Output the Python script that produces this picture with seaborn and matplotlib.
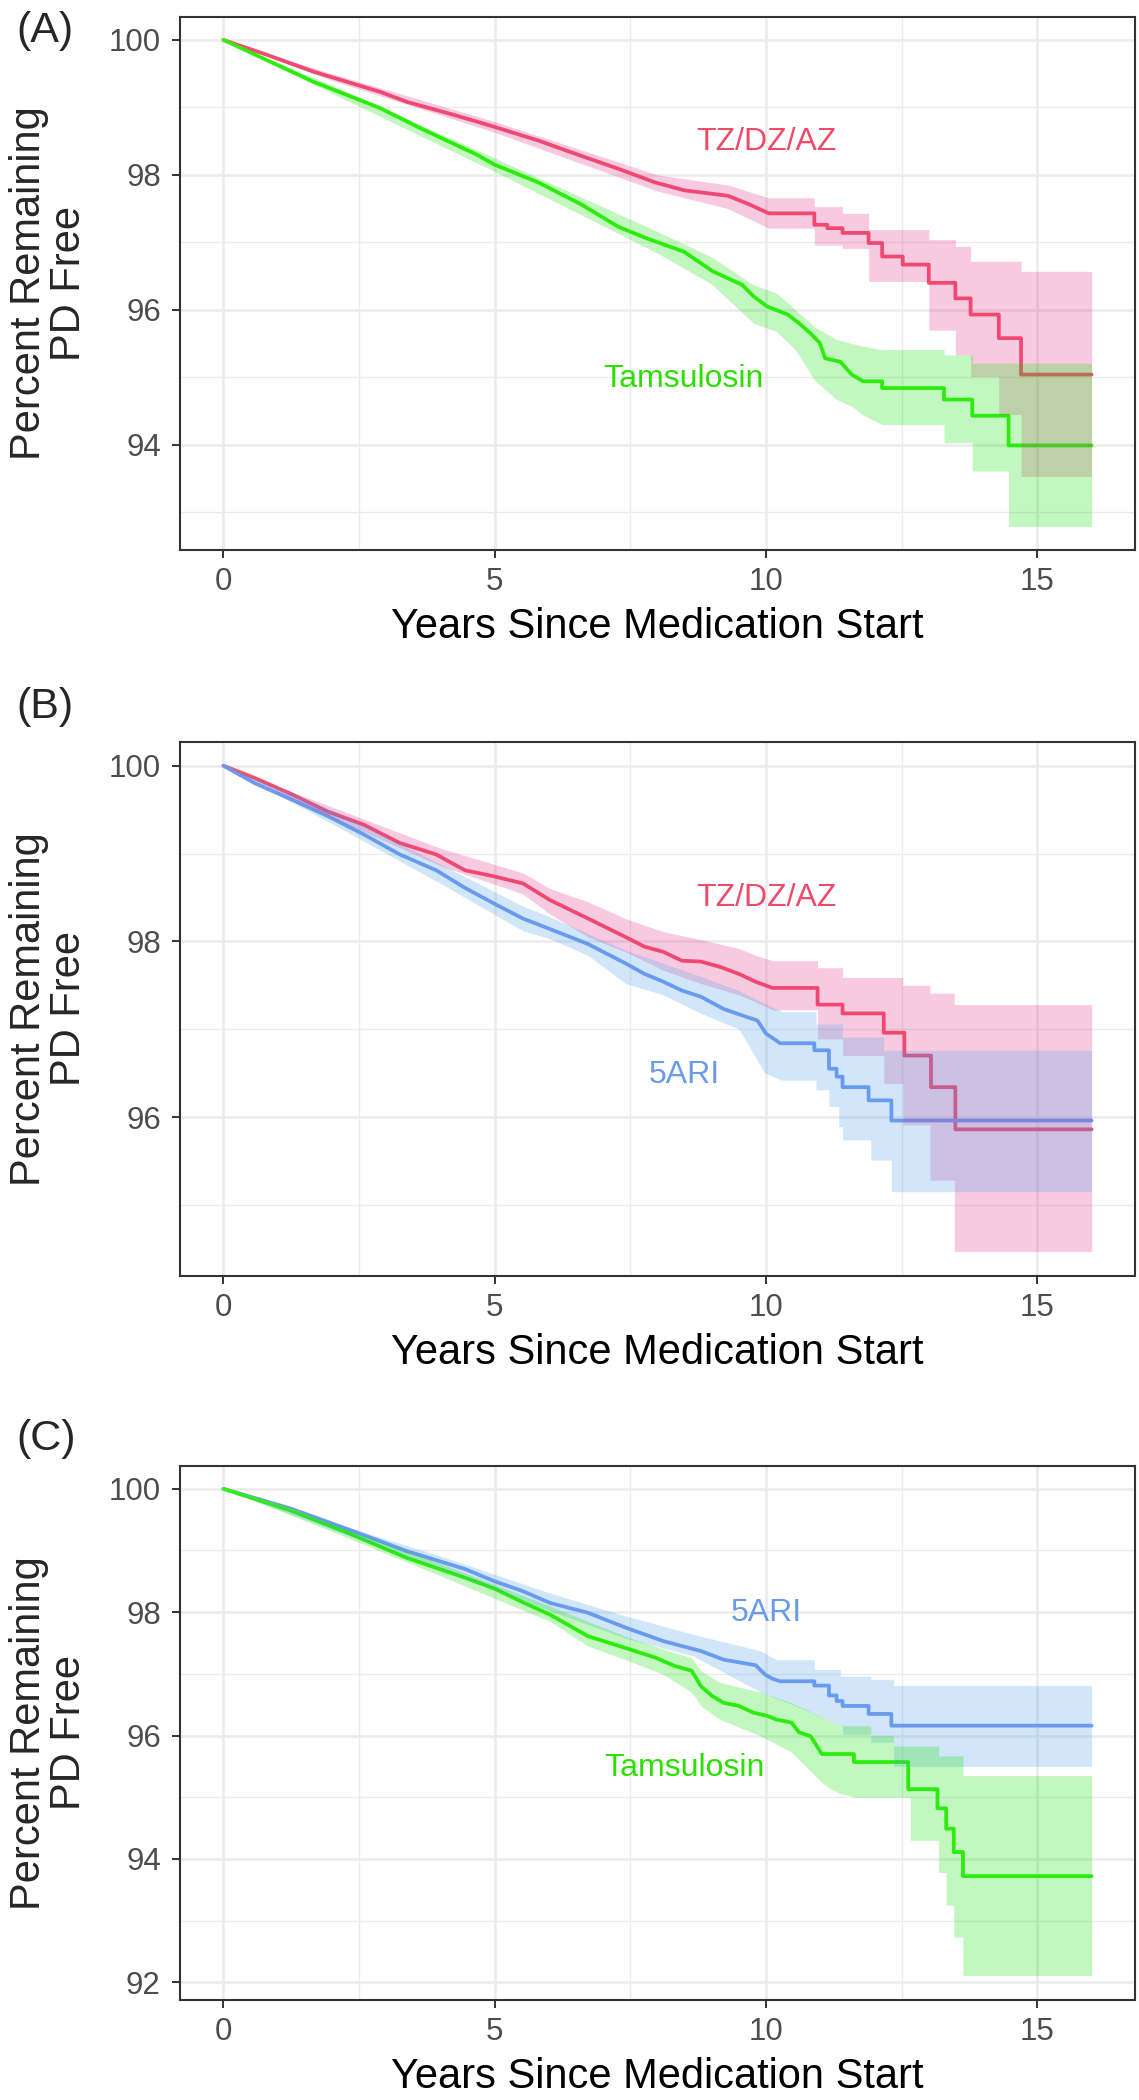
import matplotlib
matplotlib.use("Agg")
import matplotlib.pyplot as plt
import seaborn as sns

# ---- data (years, percent PD free) ----
# steps are written as two points at the same time

# (A) TZ/DZ/AZ vs Tamsulosin
a_tz_t = [0, 0.8, 1.66, 2.89, 3.39, 4.2, 4.67, 5.0, 5.8, 6.6, 7.28, 7.95, 8.5, 9.3, 9.7, 10.05,
          10.89, 10.89, 11.13, 11.13, 11.41, 11.41, 11.89, 11.89, 12.14, 12.14, 12.52, 12.52,
          13.0, 13.0, 13.49, 13.49, 13.77, 13.77, 14.29, 14.29, 14.7, 14.7, 16.0]
a_tz_s = [100, 99.78, 99.53, 99.23, 99.08, 98.9, 98.79, 98.71, 98.51, 98.28, 98.09, 97.89, 97.77, 97.69, 97.56, 97.43,
          97.43, 97.26, 97.26, 97.21, 97.21, 97.14, 97.14, 96.99, 96.99, 96.79, 96.79, 96.67,
          96.67, 96.40, 96.40, 96.17, 96.17, 95.93, 95.93, 95.58, 95.58, 95.04, 95.04]
a_tz_bt = [0, 2, 5, 8, 9.3, 10.05, 10.89, 10.89, 11.41, 11.41, 11.89, 11.89, 13.0, 13.0,
           13.49, 13.49, 13.77, 13.77, 14.29, 14.29, 14.7, 14.7, 16.0]
a_tz_lo = [100, 99.40, 98.63, 97.76, 97.5, 97.21, 97.21, 96.96, 96.96, 96.91, 96.91, 96.42, 96.42, 95.70,
           95.70, 95.33, 95.33, 95.01, 95.01, 94.45, 94.45, 93.53, 93.53]
a_tz_hi = [100, 99.50, 98.79, 98.0, 97.85, 97.66, 97.66, 97.53, 97.53, 97.43, 97.43, 97.19, 97.19, 97.04,
           97.04, 96.94, 96.94, 96.72, 96.72, 96.72, 96.72, 96.57, 96.57]

a_tam_t = [0, 1.66, 2.89, 3.66, 4.67, 5.0, 5.8, 6.6, 7.28, 7.8, 8.49, 9.02, 9.56, 9.77, 10.02, 10.4,
           10.61, 10.82, 10.99, 11.09, 11.37, 11.58, 11.79, 12.14, 12.14, 13.28, 13.28, 13.8, 13.8,
           14.47, 14.47, 16.0]
a_tam_s = [100, 99.38, 98.99, 98.68, 98.30, 98.15, 97.89, 97.56, 97.23, 97.06, 96.86, 96.57, 96.37, 96.20, 96.05, 95.93,
           95.80, 95.65, 95.51, 95.28, 95.23, 95.04, 94.94, 94.94, 94.84, 94.84, 94.67, 94.67, 94.43,
           94.43, 93.99, 93.99]
a_tam_bt = [0, 2, 5, 8, 9.0, 9.77, 10.19, 10.54, 10.89, 11.3, 11.58, 11.79, 12.14, 13.28, 13.28,
            13.8, 13.8, 14.47, 14.47, 16.0]
a_tam_lo = [100, 99.21, 98.05, 96.84, 96.38, 95.80, 95.68, 95.41, 94.96, 94.67, 94.57, 94.44, 94.30, 94.30, 94.03,
            94.03, 93.61, 93.61, 92.79, 92.79]
a_tam_hi = [100, 99.33, 98.25, 97.16, 96.78, 96.37, 96.25, 96.0, 95.75, 95.56, 95.50, 95.46, 95.41, 95.41, 95.33,
            95.33, 95.21, 95.21, 95.21, 95.21]

# (B) TZ/DZ/AZ vs 5ARI
b_tz_t = [0, 0.58, 1.24, 1.91, 2.58, 3.25, 3.92, 4.45, 4.99, 5.52, 6.02, 6.72, 7.41, 7.76, 8.11, 8.45,
          8.8, 9.15, 9.5, 9.81, 10.12, 10.95, 10.95, 11.41, 11.41, 12.17, 12.17, 12.55, 12.55,
          13.04, 13.04, 13.49, 13.49, 16.0]
b_tz_s = [100, 99.86, 99.68, 99.48, 99.33, 99.12, 98.99, 98.81, 98.74, 98.66, 98.47, 98.26, 98.05, 97.94, 97.88, 97.78,
          97.77, 97.71, 97.63, 97.54, 97.47, 97.47, 97.28, 97.28, 97.18, 97.18, 96.96, 96.96, 96.70,
          96.70, 96.34, 96.34, 95.86, 95.86]
b_tz_bt = [0, 2, 4, 5.52, 6.02, 6.72, 7.41, 8.11, 8.8, 9.5, 9.81, 10.12, 10.95, 10.95, 11.41, 11.41,
           12.17, 12.17, 12.52, 12.52, 13.02, 13.02, 13.47, 13.47, 16.0]
b_tz_lo = [100, 99.41, 98.86, 98.54, 98.31, 98.05, 97.88, 97.67, 97.52, 97.39, 97.31, 97.22, 97.22, 96.89, 96.89, 96.70,
           96.70, 96.38, 96.38, 95.91, 95.91, 95.28, 95.28, 94.47, 94.47]
b_tz_hi = [100, 99.53, 99.06, 98.78, 98.60, 98.45, 98.26, 98.11, 98.02, 97.92, 97.84, 97.78, 97.78, 97.70, 97.70, 97.59,
           97.59, 97.59, 97.59, 97.50, 97.50, 97.41, 97.41, 97.28, 97.28]

b_ari_t = [0, 0.58, 1.24, 1.91, 2.58, 3.25, 3.92, 4.45, 4.99, 5.52, 6.02, 6.72, 7.41, 7.76, 8.11, 8.45,
           8.8, 9.22, 9.64, 9.84, 10.0, 10.26, 10.89, 10.89, 11.16, 11.16, 11.3, 11.3, 11.41, 11.41,
           11.89, 11.89, 12.31, 12.31, 16.0]
b_ari_s = [100, 99.80, 99.62, 99.43, 99.22, 98.99, 98.81, 98.61, 98.43, 98.26, 98.14, 97.97, 97.75, 97.63, 97.54, 97.44,
           97.37, 97.23, 97.14, 97.10, 96.95, 96.84, 96.84, 96.76, 96.76, 96.55, 96.55, 96.46, 96.46, 96.34,
           96.34, 96.19, 96.19, 95.96, 95.96]
b_ari_bt = [0, 2, 4, 5.52, 6.02, 6.72, 7.41, 8.11, 8.8, 9.5, 9.98, 10.3, 10.92, 10.92, 11.16, 11.16,
            11.34, 11.34, 11.41, 11.41, 11.93, 11.93, 12.17, 12.17, 12.31, 12.31, 16.0]
b_ari_lo = [100, 99.34, 98.66, 98.12, 98.03, 97.84, 97.52, 97.39, 97.18, 97.0, 96.5, 96.42, 96.42, 96.31, 96.31, 96.12,
            96.12, 95.89, 95.89, 95.74, 95.74, 95.51, 95.51, 95.51, 95.51, 95.15, 95.15]
b_ari_hi = [100, 99.50, 98.88, 98.40, 98.28, 98.09, 97.90, 97.75, 97.60, 97.44, 97.29, 97.20, 97.20, 97.06, 97.06, 97.06,
            97.06, 97.06, 97.06, 96.91, 96.91, 96.91, 96.91, 96.76, 96.76, 96.76, 96.76]

# (C) 5ARI vs Tamsulosin
c_ari_t = [0, 1.24, 2.31, 3.38, 4.45, 5.0, 5.52, 6.02, 6.72, 7.41, 8.11, 8.8, 9.22, 9.81, 9.98, 10.12,
           10.26, 10.89, 10.89, 11.16, 11.16, 11.3, 11.3, 11.41, 11.41, 11.89, 11.89, 12.31, 12.31, 16.0]
c_ari_s = [100, 99.68, 99.34, 98.99, 98.70, 98.50, 98.34, 98.15, 97.99, 97.75, 97.53, 97.37, 97.23, 97.14, 96.99, 96.92,
           96.88, 96.88, 96.81, 96.81, 96.65, 96.65, 96.56, 96.56, 96.48, 96.48, 96.35, 96.35, 96.16, 96.16]
c_ari_bt = [0, 2, 4, 6.02, 7.41, 8.66, 9.91, 10.19, 10.47, 10.89, 10.89, 11.16, 11.37, 11.37, 11.41, 11.41,
            11.93, 11.93, 12.35, 12.35, 16.0]
c_ari_lo = [100, 99.34, 98.71, 98.02, 97.58, 97.29, 96.70, 96.60, 96.51, 96.35, 96.35, 96.24, 96.16, 96.16, 96.16, 96.02,
            96.02, 95.89, 95.89, 95.50, 95.50]
c_ari_hi = [100, 99.46, 98.91, 98.31, 97.94, 97.64, 97.37, 97.23, 97.23, 97.23, 97.07, 97.07, 97.07, 96.96, 96.96, 96.96,
            96.96, 96.91, 96.91, 96.81, 96.81]

c_tam_t = [0, 1.24, 2.31, 3.38, 4.45, 5.0, 5.52, 6.02, 6.72, 7.41, 7.97, 8.31, 8.63, 8.8, 9.01, 9.22,
           9.5, 9.77, 10.02, 10.19, 10.47, 10.61, 10.82, 11.03, 11.62, 11.62, 12.62, 12.62, 13.16, 13.16,
           13.32, 13.32, 13.46, 13.46, 13.63, 13.63, 16.0]
c_tam_s = [100, 99.65, 99.28, 98.88, 98.56, 98.38, 98.16, 97.96, 97.61, 97.42, 97.26, 97.13, 97.05, 96.80, 96.64, 96.53,
           96.48, 96.37, 96.32, 96.26, 96.21, 96.05, 95.99, 95.70, 95.70, 95.57, 95.57, 95.13, 95.13, 94.82,
           94.82, 94.49, 94.49, 94.11, 94.11, 93.72, 93.72]
c_tam_bt = [0, 2, 4, 6.02, 6.72, 7.41, 8.11, 8.63, 8.8, 9.15, 9.91, 10.47, 11.03, 11.16, 11.37, 11.65,
            11.93, 11.93, 12.35, 12.35, 12.66, 12.66, 13.18, 13.18, 13.32, 13.32, 13.46, 13.46, 13.63, 13.63, 16.0]
c_tam_lo = [100, 99.31, 98.59, 97.85, 97.45, 97.23, 96.99, 96.70, 96.48, 96.26, 95.99, 95.73, 95.24, 95.15, 95.06, 95.0,
            95.0, 95.0, 95.0, 95.0, 95.0, 94.30, 94.30, 93.78, 93.78, 93.25, 93.25, 92.73, 92.73, 92.11, 92.11]
c_tam_hi = [100, 99.43, 98.79, 98.10, 97.85, 97.61, 97.40, 97.26, 97.05, 96.86, 96.70, 96.53, 96.30, 96.24, 96.16, 96.16,
            96.16, 96.0, 96.0, 95.83, 95.83, 95.83, 95.83, 95.67, 95.67, 95.67, 95.67, 95.67, 95.67, 95.35, 95.35]

# colours: line, ribbon base, label
TZ = ("#F2536A", "#E72C8A", "#EE4B6A")
TAM = ("#36F012", "#0FE300", "#2BE000")
ARI = ("#7398F0", "#4BA3EB", "#6A9BEA")

sns.set_theme(style="whitegrid")
plt.rcParams["font.family"] = ["Liberation Sans", "DejaVu Sans"]

fig = plt.figure(figsize=(11.39, 21), dpi=100)
left, width = 180 / 1139, 955 / 1139


def draw_curve(ax, t, s, bt, lo, hi, cols):
    sns.lineplot(x=t, y=s, ax=ax, color=cols[0], linewidth=2.7,
                 estimator=None, sort=False, zorder=2)
    ax.fill_between(bt, lo, hi, color=cols[1], alpha=0.25, linewidth=0, zorder=3)


def style_axes(ax, ylim, yticks, yminor):
    ax.set_xlim(-0.8, 16.8)
    ax.set_ylim(*ylim)
    ax.set_xticks([0, 5, 10, 15])
    ax.set_xticks([2.5, 7.5, 12.5], minor=True)
    ax.set_yticks(yticks)
    ax.set_yticks(yminor, minor=True)
    ax.set_facecolor("white")
    ax.set_axisbelow(True)
    ax.grid(which="major", color="#EBEBEB", linewidth=1.8)
    ax.grid(which="minor", color="#EBEBEB", linewidth=1.0)
    for sp in ax.spines.values():
        sp.set_color("#333333")
        sp.set_linewidth(1.5)
    ax.tick_params(which="major", bottom=True, left=True, length=5.8, width=1.4,
                   color="#333333", labelsize=22.5, labelcolor="#4D4D4D")
    ax.tick_params(axis="x", which="major", pad=6.5)
    ax.tick_params(axis="y", which="major", pad=8)
    ax.tick_params(which="minor", length=0)
    ax.set_xlabel("Years Since Medication Start", fontsize=30, color="black")
    ax.xaxis.set_label_coords(0.5, -0.107)
    ax.set_ylabel("")
    ax.text(-0.137, 0.5, "Percent Remaining\nPD Free", transform=ax.transAxes,
            rotation=90, ha="center", va="center", fontsize=30, linespacing=1.0,
            multialignment="center")


# panel A
axA = fig.add_axes([left, 1 - 550 / 2100, width, 533 / 2100])
draw_curve(axA, a_tz_t, a_tz_s, a_tz_bt, a_tz_lo, a_tz_hi, TZ)
draw_curve(axA, a_tam_t, a_tam_s, a_tam_bt, a_tam_lo, a_tam_hi, TAM)
style_axes(axA, (92.44, 100.34), [94, 96, 98, 100], [93, 95, 97, 99])
axA.text(10.0, 98.48, "TZ/DZ/AZ", color=TZ[2], fontsize=23, ha="center", va="center", zorder=4)
axA.text(8.48, 94.97, "Tamsulosin", color=TAM[2], fontsize=23, ha="center", va="center", zorder=4)

# panel B
axB = fig.add_axes([left, 1 - 1276 / 2100, width, 534 / 2100])
draw_curve(axB, b_tz_t, b_tz_s, b_tz_bt, b_tz_lo, b_tz_hi, TZ)
draw_curve(axB, b_ari_t, b_ari_s, b_ari_bt, b_ari_lo, b_ari_hi, ARI)
style_axes(axB, (94.19, 100.27), [96, 98, 100], [95, 97, 99])
axB.text(10.0, 98.49, "TZ/DZ/AZ", color=TZ[2], fontsize=23, ha="center", va="center", zorder=4)
axB.text(8.49, 96.48, "5ARI", color=ARI[2], fontsize=23, ha="center", va="center", zorder=4)

# panel C
axC = fig.add_axes([left, 1 - 1999.5 / 2100, width, 533.5 / 2100])
draw_curve(axC, c_ari_t, c_ari_s, c_ari_bt, c_ari_lo, c_ari_hi, ARI)
draw_curve(axC, c_tam_t, c_tam_s, c_tam_bt, c_tam_lo, c_tam_hi, TAM)
style_axes(axC, (91.72, 100.37), [92, 94, 96, 98, 100], [93, 95, 97, 99])
axC.text(10.0, 97.99, "5ARI", color=ARI[2], fontsize=23, ha="center", va="center", zorder=4)
axC.text(8.49, 95.48, "Tamsulosin", color=TAM[2], fontsize=23, ha="center", va="center", zorder=4)

# panel tags
for tag, ypix in [("(A)", 31), ("(B)", 707), ("(C)", 1439)]:
    fig.text(16 / 1139, 1 - ypix / 2100, tag, fontsize=31, ha="left", va="center")

fig.savefig("out.png", dpi=100)
